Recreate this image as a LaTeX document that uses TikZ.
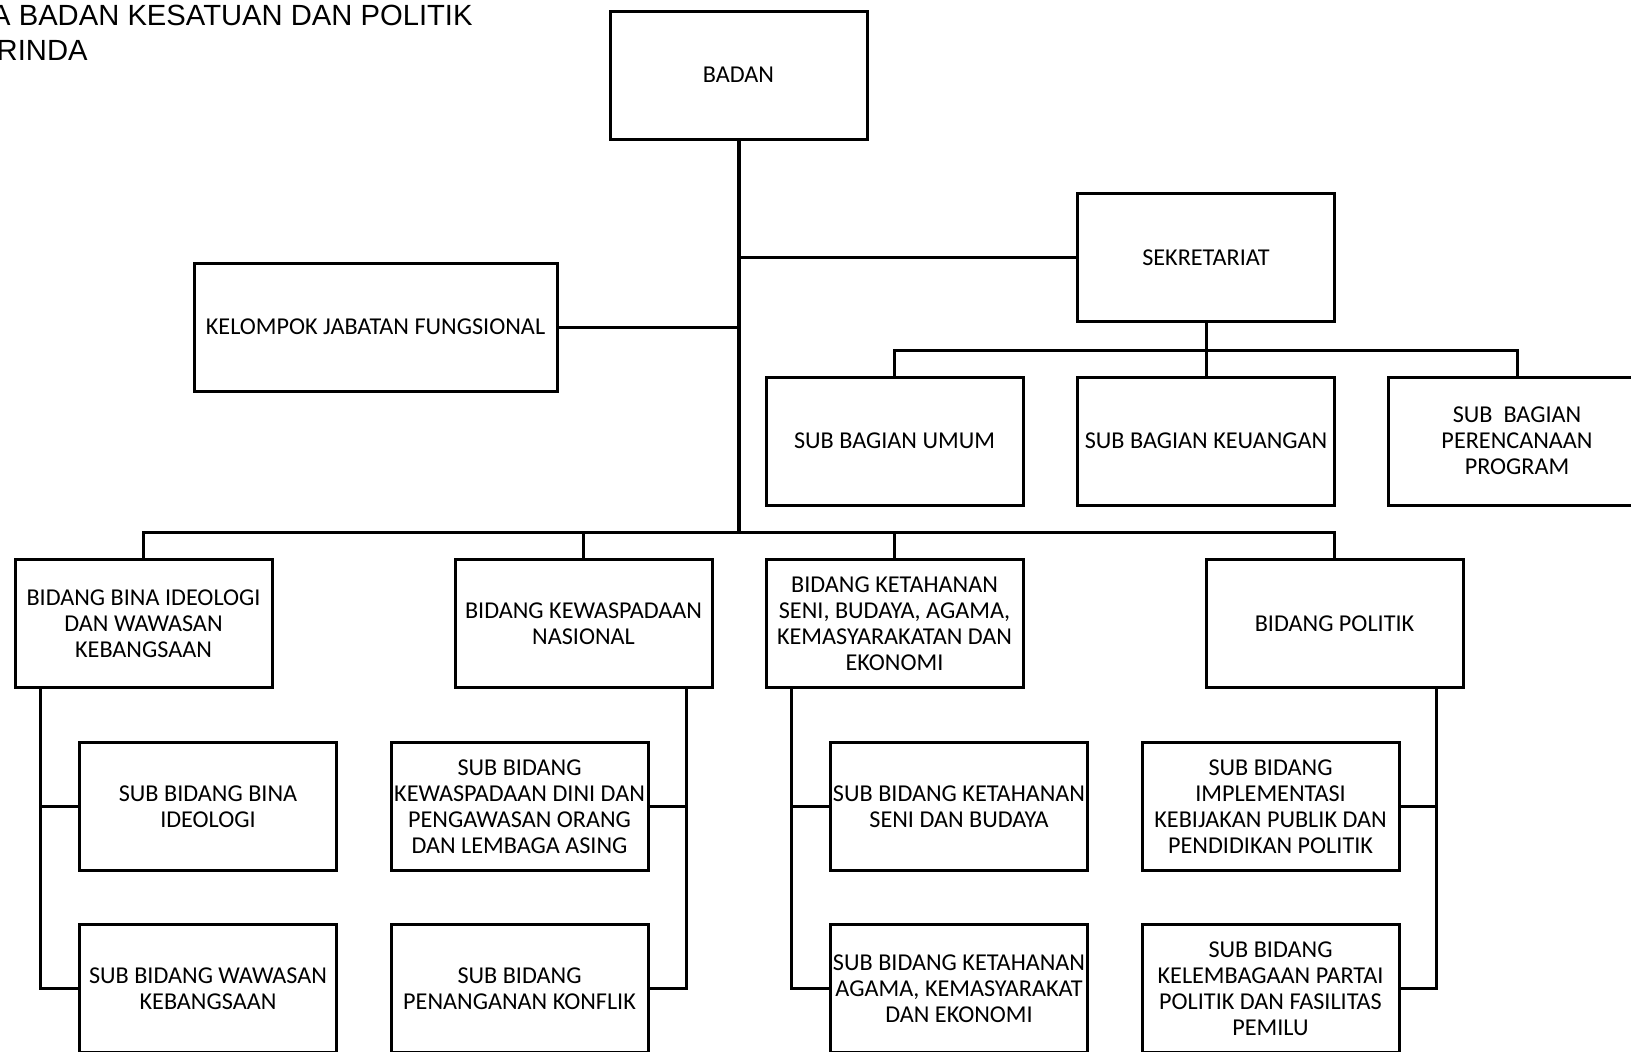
\documentclass[tikz,border=0pt]{standalone}
\usepackage{fontspec}
\setmainfont{Carlito}
\newfontfamily\titlefont{Liberation Sans}
\begin{document}
\begin{tikzpicture}[x=0.5pt,y=-0.5pt,
  box/.style={draw,line width=1.5pt,minimum width=128.5pt,minimum height=64pt,
    align=center,inner sep=0pt,font=\fontsize{12.1}{13}\selectfont},
  conn/.style={line width=1.5pt},
  trunk/.style={line width=2pt},
  ttl/.style={anchor=base east,inner sep=0pt,font=\titlefont\fontsize{14.6}{17}\selectfont}]
\useasboundingbox (0,0) rectangle (1631,1051);
% title
\node[ttl] (t1) at (473,25) {A BADAN KESATUAN DAN POLITIK};
\node[ttl] (t2) at (88,60) {RINDA};
% top
\node[box] (badan) at (738.5,75) {BADAN};
\node[box] (sek) at (1206,257.5) {SEKRETARIAT};
\node[box,minimum width=181.5pt] (kel) at (375.5,327) {KELOMPOK JABATAN FUNGSIONAL};
% sub bagian
\node[box] (umum) at (894.5,441) {SUB BAGIAN UMUM};
\node[box] (keu) at (1206,441) {SUB BAGIAN KEUANGAN};
\node[box] (per) at (1517,441) {SUB\ \ BAGIAN\\PERENCANAAN\\PROGRAM};
% bidang
\node[box] (bina) at (143.5,623.5) {BIDANG BINA IDEOLOGI\\DAN WAWASAN\\KEBANGSAAN};
\node[box] (kew) at (583.5,623.5) {BIDANG KEWASPADAAN\\NASIONAL};
\node[box] (ket) at (894.5,623.5) {BIDANG KETAHANAN\\SENI, BUDAYA, AGAMA,\\KEMASYARAKATAN DAN\\EKONOMI};
\node[box] (pol) at (1334.5,623.5) {BIDANG POLITIK};
% sub bidang
\node[box] (sb1) at (208,806.5) {SUB BIDANG BINA\\IDEOLOGI};
\node[box] (sb2) at (208,988.5) {SUB BIDANG WAWASAN\\KEBANGSAAN};
\node[box] (sk1) at (519.5,806.5) {SUB BIDANG\\KEWASPADAAN DINI DAN\\PENGAWASAN ORANG\\DAN LEMBAGA ASING};
\node[box] (sk2) at (519.5,988.5) {SUB BIDANG\\PENANGANAN KONFLIK};
\node[box] (st1) at (959,806.5) {SUB BIDANG KETAHANAN\\SENI DAN BUDAYA};
\node[box] (st2) at (959,988.5) {SUB BIDANG KETAHANAN\\AGAMA, KEMASYARAKAT\\DAN EKONOMI};
\node[box] (sp1) at (1270.5,806.5) {SUB BIDANG\\IMPLEMENTASI\\KEBIJAKAN PUBLIK DAN\\PENDIDIKAN POLITIK};
\node[box] (sp2) at (1270.5,988.5) {SUB BIDANG\\KELEMBAGAAN PARTAI\\POLITIK DAN FASILITAS\\PEMILU};
% helper coordinates
\coordinate (sekbus) at (0,350);
\coordinate (bus) at (0,532);
\coordinate (binax) at (40.7,0);
\coordinate (kewx) at (686,0);
\coordinate (ketx) at (791.7,0);
\coordinate (polx) at (1436.7,0);
% connectors
\draw[trunk] (badan.south) -- (badan.south |- bus);
\draw[conn] (badan.south |- sek.west) -- (sek.west);
\draw[conn] (kel.east) -- (kel.east -| badan.south);
\draw[conn] (sek.south) -- (keu.north);
\draw[conn] (umum.north) -- (umum.north |- sekbus) -- (per.north |- sekbus) -- (per.north);
\draw[conn] (bina.north) -- (bina.north |- bus) -- (pol.north |- bus) -- (pol.north);
\draw[conn] (kew.north) -- (kew.north |- bus);
\draw[conn] (ket.north) -- (ket.north |- bus);
\draw[conn] (binax |- bina.south) -- (binax |- sb2.west) -- (sb2.west);
\draw[conn] (binax |- sb1.west) -- (sb1.west);
\draw[conn] (kewx |- kew.south) -- (kewx |- sk2.east) -- (sk2.east);
\draw[conn] (kewx |- sk1.east) -- (sk1.east);
\draw[conn] (ketx |- ket.south) -- (ketx |- st2.west) -- (st2.west);
\draw[conn] (ketx |- st1.west) -- (st1.west);
\draw[conn] (polx |- pol.south) -- (polx |- sp2.east) -- (sp2.east);
\draw[conn] (polx |- sp1.east) -- (sp1.east);
\end{tikzpicture}
\end{document}
